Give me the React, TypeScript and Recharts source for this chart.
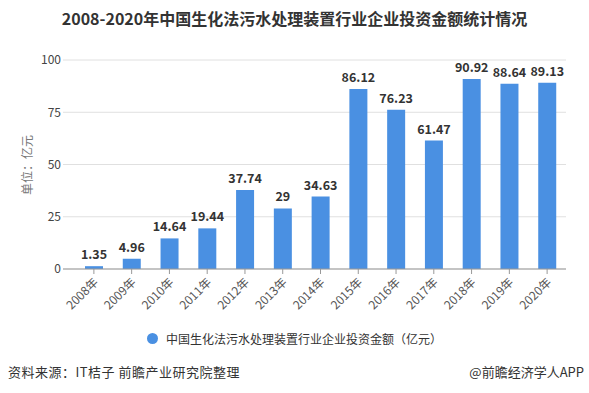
import React from 'react';
import { BarChart, Bar, XAxis, YAxis, CartesianGrid, LabelList } from 'recharts';

const years = ['2008年','2009年','2010年','2011年','2012年','2013年','2014年','2015年','2016年','2017年','2018年','2019年','2020年'];
const investment = [1.35, 4.96, 14.64, 19.44, 37.74, 29, 34.63, 86.12, 76.23, 61.47, 90.92, 88.64, 89.13];
const yTicks = [0, 25, 50, 75, 100];

const data = years.map((y, i) => ({ year: y, value: investment[i] }));

const FONT = '"Noto Sans CJK SC", "Noto Sans", sans-serif';
const BLUE = '#4a90e2';

const XTick = (props: any) => {
  const { x, y, payload } = props;
  return (
    <g transform={`translate(${x + 5},${y + 7})`}>
      <text textAnchor="end" transform="rotate(-45)" fontSize={12} fill="#555" fontFamily={FONT}>
        {payload.value}
      </text>
    </g>
  );
};

export default function App() {
  return (
    <div style={{ position: 'absolute', left: 0, top: 0, width: 589, height: 393, background: '#fff', fontFamily: FONT }}>
      <div style={{ position: 'absolute', left: 0, top: 6, width: 589, textAlign: 'center', fontSize: 16, fontWeight: 'bold', color: '#333' }}>
        2008-2020年中国生化法污水处理装置行业企业投资金额统计情况
      </div>
      <div style={{ position: 'absolute', left: 0, top: 0 }}>
        <BarChart width={589} height={320} data={data} margin={{ top: 60, right: 23, left: 35, bottom: 6 }}>
          <CartesianGrid vertical={false} stroke="#e0e0e0" />
          <XAxis dataKey="year" height={45} interval={0} tick={<XTick />} stroke="#999" tickSize={5} padding={{ left: 12, right: 0 }} />
          <YAxis width={28} domain={[0, 100]} ticks={yTicks} axisLine={false} tickLine={false} tickSize={0} tickMargin={2}
            tick={{ fontSize: 12, fill: '#444', fontFamily: FONT }} />
          <Bar dataKey="value" fill={BLUE} barSize={18} isAnimationActive={false}>
            <LabelList dataKey="value" position="top" offset={7} style={{ fontSize: 12.5, fontWeight: 'bold', fill: '#333', fontFamily: FONT }} />
          </Bar>
        </BarChart>
      </div>
      <div style={{ position: 'absolute', left: 26, top: 165, transform: 'translate(-50%,-50%) rotate(-90deg)', whiteSpace: 'nowrap', fontSize: 12, color: '#777' }}>
        单位：亿元
      </div>
      <div style={{ position: 'absolute', left: 0, top: 330, width: 589, display: 'flex', justifyContent: 'center', alignItems: 'center', fontSize: 12, color: '#333' }}>
        <span style={{ display: 'inline-block', width: 11, height: 11, borderRadius: '50%', background: BLUE, marginRight: 8 }} />
        中国生化法污水处理装置行业企业投资金额（亿元）
      </div>
      <div style={{ position: 'absolute', left: 8, top: 362, fontSize: 13, color: '#333', letterSpacing: 0.5 }}>
        资料来源：IT桔子 前瞻产业研究院整理
      </div>
      <div style={{ position: 'absolute', right: 5, top: 362, fontSize: 13, color: '#333' }}>
        @前瞻经济学人APP
      </div>
    </div>
  );
}
